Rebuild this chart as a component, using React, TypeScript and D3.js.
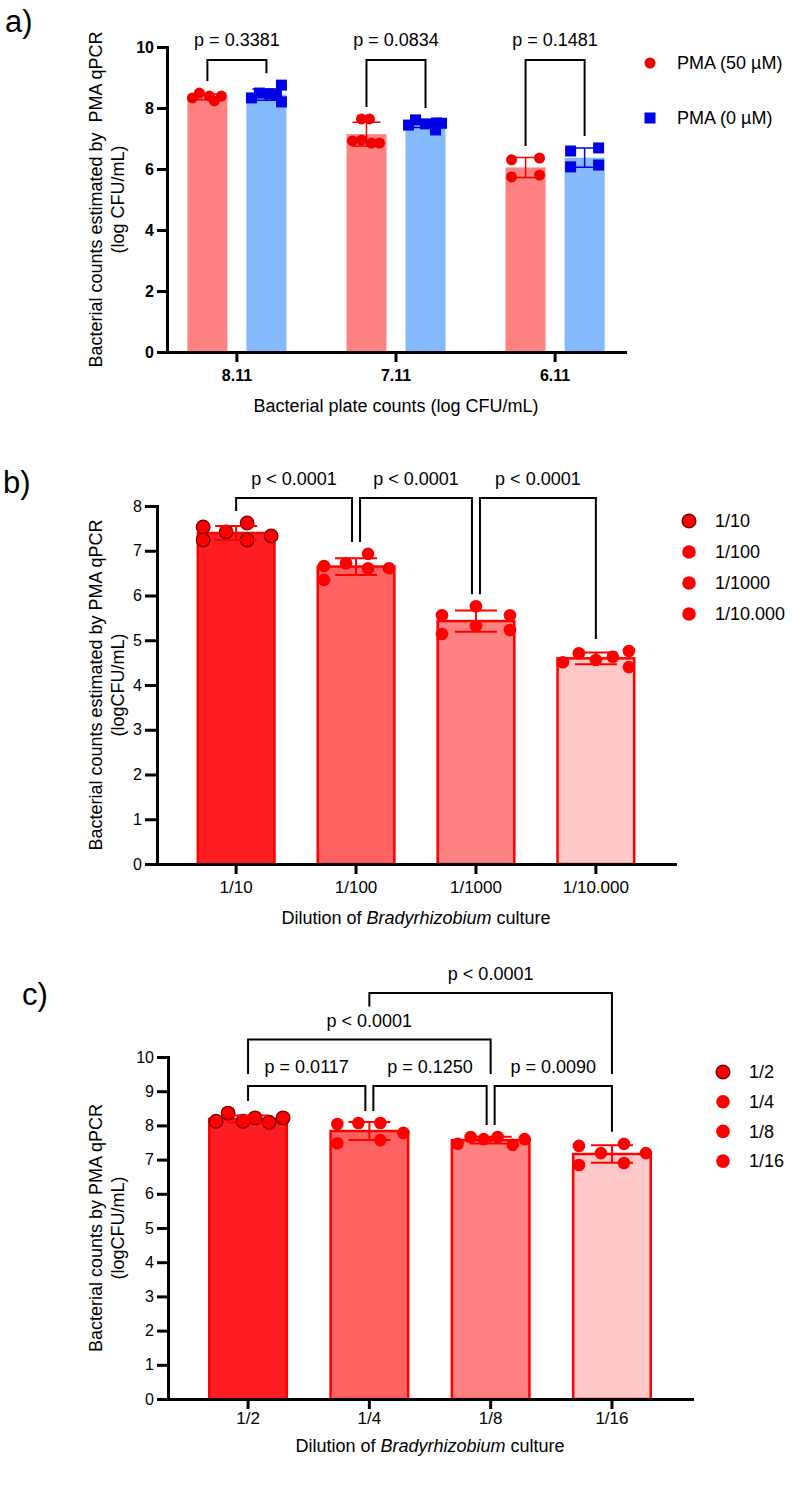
import React, { useEffect, useRef } from "react";
import * as d3 from "d3";

const FONT = "'Liberation Sans', Arial, Helvetica, sans-serif";
const TEXT_SIZE = 18;

// a) qPCR counts against plate counts, with and without PMA
const plateCounts = ["8.11", "7.11", "6.11"];
const seriesA = ["PMA (50 µM)", "PMA (0 µM)"];
const pma50 = [
  [8.33, 8.49, 8.39, 8.23, 8.39],
  [7.64, 7.64, 6.92, 6.95, 6.85, 6.85],
  [6.3, 6.36, 5.74, 5.8],
];
const pma0 = [
  [8.33, 8.49, 8.46, 8.75, 8.2, 8.42],
  [7.44, 7.61, 7.48, 7.51, 7.28, 7.5],
  [6.59, 6.69, 6.07, 6.13],
];
const pValuesA = ["p = 0.3381", "p = 0.0834", "p = 0.1481"];

// b) ten-fold dilution series
const dilutionsB = ["1/10", "1/100", "1/1000", "1/10.000"];
const countsB = [
  [7.53, 7.24, 7.42, 7.62, 7.24, 7.33],
  [6.66, 6.35, 6.72, 6.93, 6.61, 6.61],
  [5.56, 5.14, 5.76, 5.32, 5.56, 5.23],
  [4.51, 4.71, 4.56, 4.63, 4.76, 4.4],
];
const comparisonsB = [
  { from: 0, to: 1, label: "p < 0.0001", level: 0 },
  { from: 1, to: 2, label: "p < 0.0001", level: 0 },
  { from: 2, to: 3, label: "p < 0.0001", level: 0 },
];

// c) two-fold dilution series
const dilutionsC = ["1/2", "1/4", "1/8", "1/16"];
const countsC = [
  [8.12, 8.36, 8.12, 8.22, 8.09, 8.22],
  [8.04, 7.48, 8.07, 8.07, 7.57, 7.78],
  [7.46, 7.66, 7.6, 7.66, 7.43, 7.6],
  [7.4, 6.84, 7.19, 7.46, 6.9, 7.19],
];
const comparisonsC = [
  { from: 0, to: 1, label: "p = 0.0117", level: 0 },
  { from: 1, to: 2, label: "p = 0.1250", level: 0 },
  { from: 2, to: 3, label: "p = 0.0090", level: 0 },
  { from: 0, to: 2, label: "p < 0.0001", level: 1 },
  { from: 1, to: 3, label: "p < 0.0001", level: 2 },
];

// horizontal scatter of the replicate dots (px from bar centre)
const jitterA = [
  [[-15, -8, 2, 7, 14], [-5, 3, -14, -5, 5, 13], [-14, 14, -14, 14]],
  [[-15, -7, 3, 15, 15, 10], [-17, -10, 0, 11, 10, 16], [-14, 14, -14, 14]],
];
const jitterB = [
  [-33, -33, -10, 11, 11, 35],
  [-32, -32, -10, 12, 12, 33],
  [-34, -34, 0, 0, 34, 34],
  [-33, -17, 0, 17, 33, 33],
];
const jitterC = [
  [-32, -20, -5, 7, 21, 35],
  [-32, -32, -11, 11, 11, 34],
  [-33, -20, -7, 7, 22, 34],
  [-33, -33, -11, 12, 12, 34],
];

const colorsA = { bars: ["#ff8181", "#84b9fb"], dots: ["#f00000", "#0000e6"] };
const barFills = ["#ff1d24", "#ff6262", "#ff8282", "#ffc9c9"];
const RED = "#ff0000";
const DARK = "#7a0000";

const SVG_W = 792;
const SVG_H = 1492;

function styleAxis(g, opts) {
  g.attr("font-family", FONT)
    .attr("font-size", opts.fontSize)
    .attr("font-weight", opts.bold ? "bold" : "normal");
  g.selectAll("path, line").attr("stroke", "#000").attr("stroke-width", 3);
  g.select(".domain").attr("stroke-linecap", "square");
  g.selectAll("text").attr("fill", "#000");
}

function axisTitles(svg, lines, cy, xLabel, xl, yl) {
  lines.forEach((t, i) => {
    svg
      .append("text")
      .attr("transform", `translate(${102 + i * 22},${cy}) rotate(-90)`)
      .attr("text-anchor", "middle")
      .attr("font-family", FONT)
      .attr("font-size", TEXT_SIZE)
      .style("white-space", "pre")
      .text(t);
  });
  const xt = svg
    .append("text")
    .attr("x", xl)
    .attr("y", yl)
    .attr("text-anchor", "middle")
    .attr("font-family", FONT)
    .attr("font-size", TEXT_SIZE);
  xLabel.forEach((part) => {
    xt.append("tspan").attr("font-style", part.italic ? "italic" : "normal").text(part.text);
  });
}

function panelLetter(svg, letter, x, y) {
  svg
    .append("text")
    .attr("x", x)
    .attr("y", y)
    .attr("font-family", FONT)
    .attr("font-size", 31)
    .text(letter);
}

function errorBar(g, cx, values, y, capW, color, width) {
  const m = d3.mean(values);
  const s = d3.deviation(values);
  const top = y(m + s);
  const bot = y(m - s);
  g.append("path")
    .attr("d", `M${cx},${bot}V${top}M${cx - capW / 2},${top}H${cx + capW / 2}M${cx - capW / 2},${bot}H${cx + capW / 2}`)
    .attr("fill", "none")
    .attr("stroke", color)
    .attr("stroke-width", width);
}

function drawBrackets(g, comps, centers, tops, baseY, step) {
  const drawn = [];
  comps
    .slice()
    .sort((a, b) => a.level - b.level)
    .forEach((c) => {
      const shareL = comps.some((o) => o !== c && o.level === c.level && o.to === c.from);
      const shareR = comps.some((o) => o !== c && o.level === c.level && o.from === c.to);
      const x1 = centers[c.from] + (shareL ? 4 : 0);
      const x2 = centers[c.to] - (shareR ? 4 : 0);
      const yLine = baseY - c.level * step;
      // legs stop just above whatever sits below them
      const floor = (xx, gi) => {
        let f = tops[gi] - 12;
        drawn.forEach((d) => {
          if (xx >= d.x1 - 6 && xx <= d.x2 + 6) f = Math.min(f, d.y - 12);
          if (xx >= d.bx1 && xx <= d.bx2) f = Math.min(f, d.by - 4);
        });
        return f;
      };
      g.append("path")
        .attr("d", `M${x1},${floor(x1, c.from)}V${yLine}H${x2}V${floor(x2, c.to)}`)
        .attr("fill", "none")
        .attr("stroke", "#000")
        .attr("stroke-width", 2);
      const t = g
        .append("text")
        .attr("x", (x1 + x2) / 2)
        .attr("y", yLine - 13)
        .attr("text-anchor", "middle")
        .attr("font-family", FONT)
        .attr("font-size", TEXT_SIZE)
        .text(c.label);
      const bb = t.node().getBBox();
      drawn.push({ x1, x2, y: yLine, bx1: bb.x, bx2: bb.x + bb.width, by: bb.y });
    });
}

function drawPanelA(svg) {
  const g = svg.append("g");
  const x = d3.scaleBand().domain(plateCounts).range([167, 625]).paddingInner(0.377).paddingOuter(0.128);
  const xs = d3.scaleBand().domain(seriesA).range([0, x.bandwidth()]).paddingInner(0.322);
  const y = d3.scaleLinear().domain([0, 10]).range([352, 47]);
  const groups = [pma50, pma0];

  plateCounts.forEach((pc, i) => {
    groups.forEach((series, s) => {
      const vals = series[i];
      const x0 = x(pc) + xs(seriesA[s]);
      g.append("rect")
        .attr("x", x0)
        .attr("y", y(d3.mean(vals)))
        .attr("width", xs.bandwidth())
        .attr("height", y(0) - y(d3.mean(vals)))
        .attr("fill", colorsA.bars[s]);
    });
  });

  plateCounts.forEach((pc, i) => {
    groups.forEach((series, s) => {
      const vals = series[i];
      const cx = x(pc) + xs(seriesA[s]) + xs.bandwidth() / 2;
      vals.forEach((v, k) => {
        const px = cx + jitterA[s][i][k];
        if (s === 0) {
          g.append("circle").attr("cx", px).attr("cy", y(v)).attr("r", 5.5).attr("fill", colorsA.dots[0]);
        } else {
          g.append("rect")
            .attr("x", px - 5.5)
            .attr("y", y(v) - 5.5)
            .attr("width", 11)
            .attr("height", 11)
            .attr("fill", colorsA.dots[1]);
        }
      });
      errorBar(g, cx, vals, y, 28, colorsA.dots[s], 1.5);
    });
  });

  // comparison brackets between the two series of each group
  plateCounts.forEach((pc, i) => {
    const x1 = x(pc) + xs(seriesA[0]) + xs.bandwidth() / 2;
    const x2 = x(pc) + xs(seriesA[1]) + xs.bandwidth() / 2;
    const yLine = y(9.57);
    g.append("path")
      .attr("d", `M${x1},${y(d3.max(pma50[i])) - 12}V${yLine}H${x2}V${y(d3.max(pma0[i])) - 12}`)
      .attr("fill", "none")
      .attr("stroke", "#000")
      .attr("stroke-width", 2);
    g.append("text")
      .attr("x", (x1 + x2) / 2)
      .attr("y", yLine - 14)
      .attr("text-anchor", "middle")
      .attr("font-family", FONT)
      .attr("font-size", TEXT_SIZE)
      .text(pValuesA[i]);
  });

  const ya = g
    .append("g")
    .attr("transform", `translate(167,0)`)
    .call(d3.axisLeft(y).tickValues([0, 2, 4, 6, 8, 10]).tickSize(10).tickPadding(3).tickSizeOuter(0));
  styleAxis(ya, { fontSize: 16, bold: true });
  const xa = g
    .append("g")
    .attr("transform", `translate(0,352)`)
    .call(d3.axisBottom(x).tickSize(10).tickPadding(8).tickSizeOuter(0));
  styleAxis(xa, { fontSize: 16, bold: true });

  // legend
  const lg = g.append("g").attr("font-family", FONT).attr("font-size", TEXT_SIZE);
  lg.append("circle").attr("cx", 650).attr("cy", 63).attr("r", 5.5).attr("fill", colorsA.dots[0]);
  lg.append("rect").attr("x", 644.5).attr("y", 112.5).attr("width", 11).attr("height", 11).attr("fill", colorsA.dots[1]);
  seriesA.forEach((s, i) => {
    lg.append("text").attr("x", 677).attr("y", 63 + i * 55).attr("dy", "0.35em").text(s);
  });

  axisTitles(
    svg,
    ["Bacterial counts estimated by  PMA qPCR", "(log CFU/mL)"],
    199.5,
    [{ text: "Bacterial plate counts (log CFU/mL)" }],
    396,
    412
  );
  panelLetter(svg, "a)", 5, 32);
}

function drawDilutionPanel(svg, cfg) {
  const g = svg.append("g");
  const x = d3.scaleBand().domain(cfg.labels).range([cfg.x0, cfg.x1]).paddingInner(0.34).paddingOuter(0.33);
  const y = d3.scaleLinear().domain([0, cfg.yMax]).range([cfg.y0, cfg.y1]);
  const bw = x.bandwidth();

  cfg.labels.forEach((lab, i) => {
    const m = d3.mean(cfg.values[i]);
    g.append("rect")
      .attr("x", x(lab) + 1.25)
      .attr("y", y(m))
      .attr("width", bw - 2.5)
      .attr("height", y(0) - y(m))
      .attr("fill", barFills[i])
      .attr("stroke", RED)
      .attr("stroke-width", 2.5);
  });

  cfg.labels.forEach((lab, i) => {
    const cx = x(lab) + bw / 2;
    cfg.values[i].forEach((v, k) => {
      g.append("circle")
        .attr("cx", cx + cfg.jitter[i][k])
        .attr("cy", y(v))
        .attr("r", i === 0 ? 6.8 : 6.3)
        .attr("fill", RED)
        .attr("stroke", i === 0 ? DARK : "none")
        .attr("stroke-width", 1.3);
    });
    errorBar(g, cx, cfg.values[i], y, 42, RED, 2);
  });

  const centers = cfg.labels.map((lab) => x(lab) + bw / 2);
  const tops = cfg.values.map((vals) => y(d3.max(vals)));
  drawBrackets(g, cfg.comparisons, centers, tops, y(cfg.bracketBase), 46.5);

  const ya = g
    .append("g")
    .attr("transform", `translate(${cfg.x0},0)`)
    .call(d3.axisLeft(y).ticks(cfg.yMax).tickSize(cfg.yTick).tickPadding(3).tickSizeOuter(0));
  styleAxis(ya, { fontSize: 16, bold: false });
  const xa = g
    .append("g")
    .attr("transform", `translate(0,${cfg.y0})`)
    .call(d3.axisBottom(x).tickSize(10).tickPadding(cfg.xPad).tickSizeOuter(0));
  styleAxis(xa, { fontSize: 17, bold: false });

  // legend
  const lg = g.append("g").attr("font-family", FONT).attr("font-size", TEXT_SIZE);
  cfg.labels.forEach((lab, i) => {
    const ly = cfg.legendY + i * cfg.legendStep;
    lg.append("circle")
      .attr("cx", cfg.legendX)
      .attr("cy", ly)
      .attr("r", 6.8)
      .attr("fill", RED)
      .attr("stroke", i === 0 ? DARK : "none")
      .attr("stroke-width", 1.5);
    lg.append("text").attr("x", cfg.legendX + 26).attr("y", ly).attr("dy", "0.35em").text(lab);
  });

  axisTitles(
    svg,
    cfg.yTitle,
    (cfg.y0 + cfg.y1) / 2,
    [{ text: "Dilution of " }, { text: "Bradyrhizobium", italic: true }, { text: " culture" }],
    (cfg.x0 + cfg.x1) / 2,
    cfg.xTitleY
  );
  panelLetter(svg, cfg.letter, cfg.letterX, cfg.letterY);
}

const App = () => {
  const svgRef = useRef(null);

  useEffect(() => {
    const svg = d3.select(svgRef.current);
    svg.selectAll("*").remove();

    drawPanelA(svg);

    drawDilutionPanel(svg, {
      labels: dilutionsB,
      values: countsB,
      jitter: jitterB,
      comparisons: comparisonsB,
      yMax: 8,
      x0: 157,
      x1: 675,
      y0: 864,
      y1: 506,
      yTick: 12,
      xPad: 7,
      bracketBase: 8.18,
      legendX: 689,
      legendY: 521,
      legendStep: 31,
      yTitle: ["Bacterial counts estimated by PMA qPCR", "(logCFU/mL)"],
      xTitleY: 924,
      letter: "b)",
      letterX: 3,
      letterY: 493,
    });

    drawDilutionPanel(svg, {
      labels: dilutionsC,
      values: countsC,
      jitter: jitterC,
      comparisons: comparisonsC,
      yMax: 10,
      x0: 168,
      x1: 692,
      y0: 1399,
      y1: 1057,
      yTick: 11,
      xPad: 3,
      bracketBase: 9.15,
      legendX: 723,
      legendY: 1072,
      legendStep: 29.7,
      yTitle: ["Bacterial counts by PMA qPCR", "(logCFU/mL)"],
      xTitleY: 1452,
      letter: "c)",
      letterX: 22,
      letterY: 1005,
    });
  }, []);

  return (
    <svg
      ref={svgRef}
      width={SVG_W}
      height={SVG_H}
      style={{ position: "absolute", left: 0, top: 0, background: "#fff" }}
    />
  );
};

export default App;
